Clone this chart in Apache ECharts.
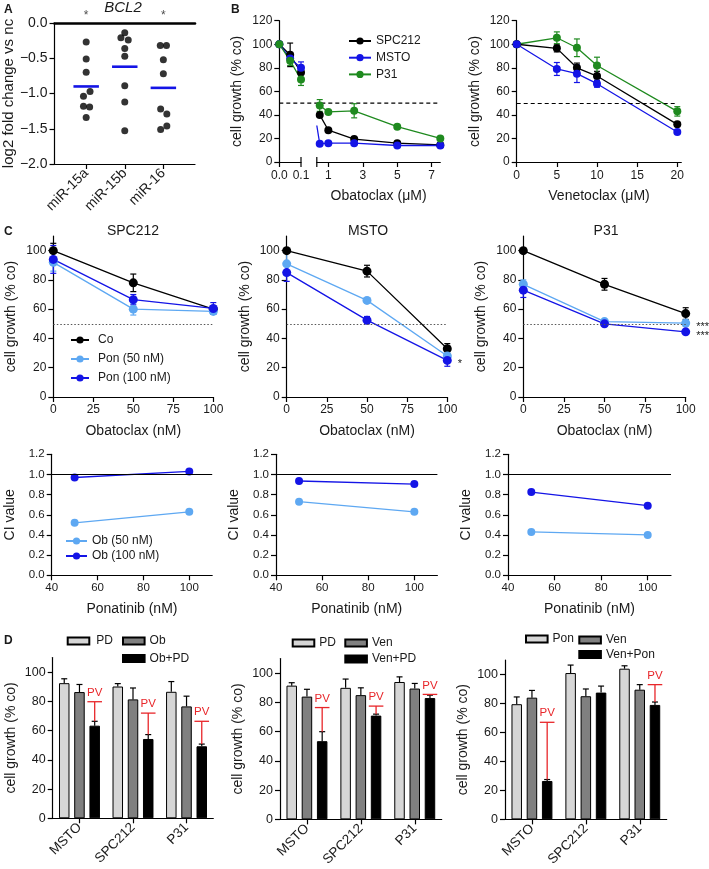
<!DOCTYPE html>
<html><head><meta charset="utf-8">
<script src="https://cdn.jsdelivr.net/npm/echarts@6/dist/echarts.min.js"></script>
<style>html,body{margin:0;padding:0;background:#fff}#c{width:709px;height:869px}</style>
</head><body><div id="c"></div><script>
// ---------------- DATA ----------------
// Panel A: BCL2 log2 fold change
const aCats = ['miR-15a', 'miR-15b', 'miR-16'];
const a15aX = [1, 1, 1, 1.1, 0.93, 0.93, 1.09, 1];
const a15aY = [-0.27, -0.51, -0.70, -0.97, -1.04, -1.18, -1.19, -1.34];
const a15bX = [2, 1.9, 2.09, 2, 2, 2, 2, 2];
const a15bY = [-0.14, -0.21, -0.24, -0.36, -0.47, -0.89, -1.12, -1.53];
const a16X = [2.92, 3.08, 3, 3, 2.93, 3.09, 3.09, 2.93];
const a16Y = [-0.32, -0.32, -0.52, -0.72, -1.22, -1.29, -1.46, -1.51];
const aMeans = [-0.90, -0.62, -0.92];
const aSig = ['*', '', '*'];

// Panel B left: Obatoclax (µM), broken axis
const bLoX = [0, 0.05, 0.1];
const bLoSPC = [100, 91, 76];   const bLoSPCErr = [0, 10, 0];
const bLoMSTO = [100, 88, 80];  const bLoMSTOErr = [0, 0, 5];
const bLoP31 = [100, 86, 70];   const bLoP31Err = [0, 4, 5];
const bHiX = [0.5, 1, 2.5, 5, 7.5];
const bHiSPC = [40, 27, 19.5, 16, 14.5];
const bHiMSTO = [15.5, 16, 16, 14, 14];
const bHiMSTOEdge = [0.33, 31];
const bHiP31 = [48, 42.5, 43.5, 30, 20];  const bHiP31Err = [5, 0, 6, 0, 0];

// Panel B right: Venetoclax (µM)
const vX = [0, 5, 7.5, 10, 20];
const vSPC = [100, 96.5, 80, 73, 32];     const vSPCErr = [0, 3, 4, 4, 0];
const vMSTO = [100, 79, 75, 66.5, 25.5];  const vMSTOErr = [0, 5.5, 7.5, 3, 0];
const vP31 = [100, 105.5, 97, 82, 43];    const vP31Err = [0, 5, 7.5, 7, 4];

// Panel C row 1: Obatoclax (nM) +/- Ponatinib
const cX = [0, 50, 100];
const cSPC_co = [100, 78, 60];   const cSPC_coErr = [5, 6, 2];
const cSPC_p50 = [92, 60, 58.5]; const cSPC_p50Err = [6, 4, 2];
const cSPC_p100 = [94, 66.5, 60.5]; const cSPC_p100Err = [9.5, 3.5, 4];
const cMSTO_co = [100, 86, 33];  const cMSTO_coErr = [0, 4, 3.5];
const cMSTO_p50 = [91, 66, 28];  const cMSTO_p50Err = [8, 0, 3];
const cMSTO_p100 = [85, 52.5, 25]; const cMSTO_p100Err = [6, 2.5, 4];
const cMSTO_p100Sig = ['', '', '*'];
const cP31_co = [100, 77, 57];   const cP31_coErr = [0, 4, 4];
const cP31_p50 = [77, 51.5, 50.5]; const cP31_p50Err = [3, 0, 2];
const cP31_p100 = [73, 50, 44.5]; const cP31_p100Err = [5, 0, 1];
const cP31_p50Sig = ['', '', '***'];
const cP31_p100Sig = ['', '', '***'];

// Panel C row 2: CI values vs Ponatinib (nM)
const ciX = [50, 100];
const ci1_50 = [0.52, 0.63];  const ci1_100 = [0.97, 1.03];
const ci2_50 = [0.73, 0.63];  const ci2_100 = [0.935, 0.905];
const ci3_50 = [0.43, 0.40];  const ci3_100 = [0.825, 0.69];

// Panel D: bars
const dCats = ['MSTO', 'SPC212', 'P31'];
const d1PD = [92.5, 90.2, 86.6];   const d1PDErr = [3, 2, 7];
const d1Ob = [86.4, 81.4, 76.6];   const d1ObErr = [5.2, 7.8, 7];
const d1Comb = [63.4, 54.3, 49.3]; const d1CombErr = [3, 3, 1.5];
const d1PV = [79.8, 72, 66.4];
const d2PD = [91.5, 90, 94];       const d2PDErr = [2, 6, 3.5];
const d2Ven = [84, 85, 89.5];      const d2VenErr = [5, 5, 3.5];
const d2Comb = [53.5, 71, 83];     const d2CombErr = [6.5, 1, 2];
const d2PV = [76.5, 77.5, 85.5];
const d3Pon = [79.5, 101, 104];    const d3PonErr = [5, 5.5, 2];
const d3Ven = [84, 85, 89.5];      const d3VenErr = [5, 5, 3.5];
const d3Comb = [26.5, 87.5, 79];   const d3CombErr = [1, 4.5, 2];
const d3PV = [67, null, 93];

// ticks
const ticksA = [0, -0.5, -1, -1.5, -2];
const ticks120 = [0, 20, 40, 60, 80, 100, 120];
const ticks100 = [0, 20, 40, 60, 80, 100];
const ticksCI = [0, 0.2, 0.4, 0.6, 0.8, 1.0, 1.2];
const ticksPon = [40, 60, 80, 100];
const ticksOb = [0, 25, 50, 75, 100];
const ticksVen = [0, 5, 10, 15, 20];
const ticksObaHi = [1, 3, 5, 7];

// ---------------- STYLE ----------------
const F = "'Liberation Sans', Arial, Helvetica, sans-serif";
const TXT = '#1a1a1a';
const BLACK = '#000000', BLUE = '#1414e6', LBLUE = '#5ea8f2', GREEN = '#1f8a1f', RED = '#e8262a';
const PDC = '#d6d6d6', OBC = '#808080';
const BW = 10.5, BGAP = 0.45, BOFF = BW * (1 + BGAP);

const chart = echarts.init(document.getElementById('c'));

const grids = [
  {left: 54, top: 23, width: 141, height: 141},            // 0 A
  {left: 279.3, top: 20.7, width: 21.7, height: 141.3},    // 1 B1
  {left: 316.8, top: 20.7, width: 123.5, height: 141.3},   // 2 B2
  {left: 516.7, top: 20.7, width: 164.6, height: 141.3},   // 3 B3
  {left: 53.3, top: 236, width: 160, height: 161},         // 4 C1
  {left: 286.7, top: 236, width: 160.6, height: 161},      // 5 C2
  {left: 523.3, top: 236, width: 162.4, height: 161},      // 6 C3
  {left: 51.7, top: 454.3, width: 160.5, height: 121},     // 7 CI1
  {left: 276, top: 454.3, width: 161.4, height: 121},      // 8 CI2
  {left: 508, top: 454.3, width: 163, height: 121},        // 9 CI3
  {left: 52.7, top: 657.6, width: 160.6, height: 160.7},   // 10 D1
  {left: 280, top: 658.6, width: 161.7, height: 161.4},    // 11 D2
  {left: 505, top: 660, width: 161.7, height: 160.7}       // 12 D3
];

function vAxis(o) {
  return {
    type: 'value', gridIndex: o.g, min: o.min, max: o.max, show: o.show !== false,
    position: o.pos,
    name: o.name || '', nameLocation: 'middle', nameGap: o.nameGap || 36,
    nameTextStyle: {fontSize: o.nameSize || 14, color: TXT, fontFamily: F},
    axisLine: {show: true, onZero: false, lineStyle: {color: '#000', width: 1.2}},
    axisTick: {show: o.tickShow !== false, length: 5, customValues: o.tickVals || o.ticks, lineStyle: {color: '#000', width: 1.2}},
    axisLabel: {customValues: o.ticks, formatter: o.fmt, fontSize: o.size || 12, color: TXT, fontFamily: F, margin: o.margin || 7},
    splitLine: {show: false}
  };
}
const f1 = v => v.toFixed(1).replace('-', '\u2212');
const f0 = v => String(Math.round(v));

const xAxes = [
  vAxis({g: 0, min: 0.18, max: 3.82, ticks: [1, 2, 3], fmt: v => aCats[Math.round(v) - 1], size: 14}),
  vAxis({g: 1, min: 0, max: 0.1, ticks: [0, 0.1], tickVals: [0], fmt: f1, name: '', margin: 8}),
  vAxis({g: 2, min: 0.33, max: 7.5, ticks: ticksObaHi, fmt: f0, name: 'Obatoclax (\u03bcM)', nameGap: 27, margin: 8}),
  vAxis({g: 3, min: 0, max: 20.5, ticks: ticksVen, fmt: f0, name: 'Venetoclax (\u03bcM)', nameGap: 27, margin: 8}),
  vAxis({g: 4, min: 0, max: 100, ticks: ticksOb, fmt: f0, name: 'Obatoclax (nM)', nameGap: 27}),
  vAxis({g: 5, min: 0, max: 100, ticks: ticksOb, fmt: f0, name: 'Obatoclax (nM)', nameGap: 27}),
  vAxis({g: 6, min: 0, max: 100, ticks: ticksOb, fmt: f0, name: 'Obatoclax (nM)', nameGap: 27}),
  vAxis({g: 7, min: 40, max: 110, ticks: ticksPon, fmt: f0, name: 'Ponatinib (nM)', nameGap: 27, size: 11.5}),
  vAxis({g: 8, min: 40, max: 110, ticks: ticksPon, fmt: f0, name: 'Ponatinib (nM)', nameGap: 27, size: 11.5}),
  vAxis({g: 9, min: 40, max: 110, ticks: ticksPon, fmt: f0, name: 'Ponatinib (nM)', nameGap: 27, size: 11.5})
];
xAxes[0].axisLabel.rotate = 45;
for (let g = 10; g <= 12; g++) {
  xAxes.push({
    type: 'category', gridIndex: g, data: dCats,
    axisLine: {show: true, onZero: false, lineStyle: {color: '#000', width: 1.2}},
    axisTick: {show: true, alignWithLabel: true, length: 5, lineStyle: {color: '#000', width: 1.2}},
    axisLabel: {rotate: 45, fontSize: 13.5, color: TXT, fontFamily: F, margin: 7},
    splitLine: {show: false}
  });
}
// thick zero line on top of panel A
xAxes.push({type: 'value', gridIndex: 0, position: 'top', min: 0.18, max: 3.82,
  axisLine: {show: true, onZero: false, lineStyle: {color: '#000', width: 2.6}},
  axisTick: {show: false}, axisLabel: {show: false}, splitLine: {show: false}});

const yAxes = [
  vAxis({g: 0, min: -2, max: 0, ticks: ticksA, fmt: f1, size: 14, name: 'log2 fold change vs nc', nameSize: 15, nameGap: 37}),
  vAxis({g: 1, min: 0, max: 120, ticks: ticks120, fmt: f0, name: 'cell growth (% co)', nameGap: 35}),
  vAxis({g: 2, min: 0, max: 120, ticks: ticks120, fmt: f0, show: false}),
  vAxis({g: 3, min: 0, max: 120, ticks: ticks120, fmt: f0, name: 'cell growth (% co)', nameGap: 35}),
  vAxis({g: 4, min: 0, max: 110, ticks: ticks100, fmt: f0, name: 'cell growth (% co)', nameGap: 35}),
  vAxis({g: 5, min: 0, max: 110, ticks: ticks100, fmt: f0, name: 'cell growth (% co)', nameGap: 35}),
  vAxis({g: 6, min: 0, max: 110, ticks: ticks100, fmt: f0, name: 'cell growth (% co)', nameGap: 35}),
  vAxis({g: 7, min: 0, max: 1.2, ticks: ticksCI, fmt: f1, name: 'CI value', nameGap: 35, size: 11.5}),
  vAxis({g: 8, min: 0, max: 1.2, ticks: ticksCI, fmt: f1, name: 'CI value', nameGap: 35, size: 11.5}),
  vAxis({g: 9, min: 0, max: 1.2, ticks: ticksCI, fmt: f1, name: 'CI value', nameGap: 35, size: 11.5}),
  vAxis({g: 10, min: 0, max: 110, ticks: ticks100, fmt: f0, name: 'cell growth (% co)', nameGap: 35, size: 12.5}),
  vAxis({g: 11, min: 0, max: 110, ticks: ticks100, fmt: f0, name: 'cell growth (% co)', nameGap: 35, size: 12.5}),
  vAxis({g: 12, min: 0, max: 110, ticks: ticks100, fmt: f0, name: 'cell growth (% co)', nameGap: 35, size: 12.5})
];

// ---------------- SERIES ----------------
const series = [];
function pairs(xs, ys) { return xs.map((x, i) => [x, ys[i]]); }
function lineS(name, g, xs, ys, color, size, extra) {
  const s = {type: 'line', name: name, xAxisIndex: g, yAxisIndex: g, data: pairs(xs, ys),
    symbol: 'circle', symbolSize: size || 8, showSymbol: true,
    lineStyle: {color: color, width: 1.3}, itemStyle: {color: color}, z: 4};
  return Object.assign(s, extra || {});
}
function errRender(color, cap, offset, topOnly) {
  return function (params, api) {
    const x = api.value(0), lo = api.value(1), hi = api.value(2);
    const a = api.coord([x, lo]), b = api.coord([x, hi]);
    const ox = offset || 0;
    const st = {stroke: color, lineWidth: 1.2};
    const ch = [
      {type: 'line', shape: {x1: a[0] + ox, y1: a[1], x2: b[0] + ox, y2: b[1]}, style: st},
      {type: 'line', shape: {x1: b[0] + ox - cap, y1: b[1], x2: b[0] + ox + cap, y2: b[1]}, style: st}
    ];
    if (!topOnly) ch.push({type: 'line', shape: {x1: a[0] + ox - cap, y1: a[1], x2: a[0] + ox + cap, y2: a[1]}, style: st});
    return {type: 'group', children: ch};
  };
}
function errS(g, xs, ys, es, color, cap) {
  const data = [];
  xs.forEach((x, i) => { if (es[i] > 0) data.push([x, ys[i] - es[i], ys[i] + es[i]]); });
  return {type: 'custom', xAxisIndex: g, yAxisIndex: g, data: data, silent: true, z: 3,
    renderItem: errRender(color, cap || 3), encode: {x: 0, y: [1, 2]}};
}
function sigLabel(arr) {
  return {show: true, position: 'right', distance: 6, offset: [0, 4], fontSize: 11, color: TXT, fontFamily: F,
    formatter: p => arr[p.dataIndex]};
}

// Panel A
series.push({type: 'scatter', xAxisIndex: 0, yAxisIndex: 0, data: pairs(a15aX, a15aY), symbolSize: 7, itemStyle: {color: '#000'}, z: 4});
series.push({type: 'scatter', xAxisIndex: 0, yAxisIndex: 0, data: pairs(a15bX, a15bY), symbolSize: 7, itemStyle: {color: '#000'}, z: 4});
series.push({type: 'scatter', xAxisIndex: 0, yAxisIndex: 0, data: pairs(a16X, a16Y), symbolSize: 7, itemStyle: {color: '#000'}, z: 4});
series.push({type: 'custom', xAxisIndex: 0, yAxisIndex: 0, silent: true, z: 3,
  data: aMeans.map((m, i) => [i + 1, m]),
  renderItem: function (params, api) {
    const x = api.value(0), y = api.value(1);
    const a = api.coord([x - 0.33, y]), b = api.coord([x + 0.33, y]);
    return {type: 'line', shape: {x1: a[0], y1: a[1], x2: b[0], y2: b[1]}, style: {stroke: BLUE, lineWidth: 2.6}};
  }});
series.push({type: 'scatter', xAxisIndex: 0, yAxisIndex: 0, symbolSize: 0, silent: true,
  data: aSig.map((s, i) => [i + 1, 0]),
  label: {show: true, position: 'top', distance: 1, fontSize: 12, color: TXT, fontFamily: F, formatter: p => aSig[p.dataIndex]}});

// Panel B left
series.push(errS(1, bLoX, bLoSPC, bLoSPCErr, BLACK));
series.push(errS(1, bLoX, bLoMSTO, bLoMSTOErr, BLUE));
series.push(errS(1, bLoX, bLoP31, bLoP31Err, GREEN));
series.push(lineS('SPC212', 1, bLoX, bLoSPC, BLACK, 8));
series.push(lineS('MSTO', 1, bLoX, bLoMSTO, BLUE, 8));
series.push(lineS('P31', 1, bLoX, bLoP31, GREEN, 8));
series.push(errS(2, bHiX, bHiP31, bHiP31Err, GREEN));
series.push(lineS('SPC212', 2, bHiX, bHiSPC, BLACK, 8));
const mstoHi = lineS('MSTO', 2, bHiX, bHiMSTO, BLUE, 8);
mstoHi.data = [{value: bHiMSTOEdge, symbolSize: 0}].concat(mstoHi.data);
series.push(mstoHi);
series.push(lineS('P31', 2, bHiX, bHiP31, GREEN, 8));

// Panel B right
series.push(errS(3, vX, vSPC, vSPCErr, BLACK));
series.push(errS(3, vX, vMSTO, vMSTOErr, BLUE));
series.push(errS(3, vX, vP31, vP31Err, GREEN));
series.push(lineS('P31', 3, vX, vP31, GREEN, 8));
series.push(lineS('SPC212', 3, vX, vSPC, BLACK, 8, {
  markLine: {silent: true, symbol: 'none', label: {show: false},
    lineStyle: {color: '#000', type: [4, 3], width: 1.2},
    data: [[{coord: [0, 50]}, {coord: [20, 50]}]]}}));
series.push(lineS('MSTO', 3, vX, vMSTO, BLUE, 8));

// Panel C row 1
function cPanel(g, co, coE, p50, p50E, p100, p100E, sig50, sig100) {
  series.push(errS(g, cX, co, coE, BLACK));
  series.push(errS(g, cX, p50, p50E, LBLUE));
  series.push(errS(g, cX, p100, p100E, BLUE));
  series.push(lineS('Co', g, cX, co, BLACK, 9, {
    markLine: {silent: true, symbol: 'none', label: {show: false},
      lineStyle: {color: '#555', type: [1.5, 2], width: 1.2},
      data: [{yAxis: 50}]}}));
  series.push(lineS('Pon (50 nM)', g, cX, p50, LBLUE, 9, sig50 ? {label: sigLabel(sig50)} : {}));
  series.push(lineS('Pon (100 nM)', g, cX, p100, BLUE, 9, sig100 ? {label: sigLabel(sig100)} : {}));
}
cPanel(4, cSPC_co, cSPC_coErr, cSPC_p50, cSPC_p50Err, cSPC_p100, cSPC_p100Err);
cPanel(5, cMSTO_co, cMSTO_coErr, cMSTO_p50, cMSTO_p50Err, cMSTO_p100, cMSTO_p100Err, null, cMSTO_p100Sig);
cPanel(6, cP31_co, cP31_coErr, cP31_p50, cP31_p50Err, cP31_p100, cP31_p100Err, cP31_p50Sig, cP31_p100Sig);

// Panel C row 2 (CI)
function ciPanel(g, v50, v100) {
  series.push(lineS('Ob (50 nM)', g, ciX, v50, LBLUE, 8, {
    markLine: {silent: true, symbol: 'none', label: {show: false},
      lineStyle: {color: '#000', type: 'solid', width: 1.2}, data: [{yAxis: 1.0}]}}));
  series.push(lineS('Ob (100 nM)', g, ciX, v100, BLUE, 8));
}
ciPanel(7, ci1_50, ci1_100);
ciPanel(8, ci2_50, ci2_100);
ciPanel(9, ci3_50, ci3_100);

// Panel D
function barS(name, g, vals, color) {
  return {type: 'bar', name: name, xAxisIndex: g, yAxisIndex: g, data: vals, barWidth: BW, barGap: (BGAP * 100) + '%',
    itemStyle: {color: color, borderColor: '#000', borderWidth: 1}, z: 2};
}
function barErrS(g, vals, errs, pos) {
  return {type: 'custom', xAxisIndex: g, yAxisIndex: g, silent: true, z: 3,
    data: vals.map((v, i) => [i, v, v + errs[i]]),
    renderItem: errRender('#000', 3, (pos - 1) * BOFF, true)};
}
function pvS(g, vals, errs, pv) {
  const data = [];
  pv.forEach((p, i) => { if (p !== null) data.push([i, vals[i] + errs[i], p]); });
  return {type: 'custom', xAxisIndex: g, yAxisIndex: g, silent: true, z: 4, data: data,
    renderItem: function (params, api) {
      const x = api.value(0);
      const a = api.coord([x, api.value(1)]), b = api.coord([x, api.value(2)]);
      const ox = BOFF;
      const st = {stroke: RED, lineWidth: 1.3};
      return {type: 'group', children: [
        {type: 'line', shape: {x1: a[0] + ox, y1: a[1], x2: b[0] + ox, y2: b[1]}, style: st},
        {type: 'line', shape: {x1: b[0] + ox - 7.3, y1: b[1], x2: b[0] + ox + 7.3, y2: b[1]}, style: st},
        {type: 'text', style: {text: 'PV', x: b[0] + ox, y: b[1] - 3, align: 'center', verticalAlign: 'bottom',
          fill: RED, fontSize: 11.5, fontFamily: F}}
      ]};
    }};
}
function dPanel(g, n1, v1, e1, n2, v2, e2, n3, v3, e3, pv) {
  series.push(barS(n1, g, v1, PDC));
  series.push(barS(n2, g, v2, OBC));
  series.push(barS(n3, g, v3, '#000'));
  series.push(barErrS(g, v1, e1, 0));
  series.push(barErrS(g, v2, e2, 1));
  series.push(barErrS(g, v3, e3, 2));
  series.push(pvS(g, v3, e3, pv));
}
dPanel(10, 'PD', d1PD, d1PDErr, 'Ob', d1Ob, d1ObErr, 'Ob+PD', d1Comb, d1CombErr, d1PV);
dPanel(11, 'PD', d2PD, d2PDErr, 'Ven', d2Ven, d2VenErr, 'Ven+PD', d2Comb, d2CombErr, d2PV);
dPanel(12, 'Pon', d3Pon, d3PonErr, 'Ven', d3Ven, d3VenErr, 'Ven+Pon', d3Comb, d3CombErr, d3PV);

// ---------------- LEGENDS ----------------
const lt = {fontSize: 12, color: TXT, fontFamily: F, lineHeight: 14};
function leg(names, left, top, w, h, gap, extra) {
  return Object.assign({data: names, orient: 'vertical', left: left, top: top, padding: 0,
    itemWidth: w, itemHeight: h, itemGap: gap, selectedMode: false, textStyle: Object.assign({}, lt)}, extra || {});
}
const legends = [
  leg(['SPC212', 'MSTO', 'P31'], 348, 34, 22, 9, 2.7),
  leg(['Co', 'Pon (50 nM)', 'Pon (100 nM)'], 70, 333, 18, 9, 5, {textStyle: Object.assign({}, lt, {padding: [0, 0, 0, 4]})}),
  leg(['Ob (50 nM)', 'Ob (100 nM)'], 65, 534, 21, 9, 1),
  leg(['PD'], 66.7, 634, 21.6, 7, 2, {icon: 'rect', textStyle: Object.assign({}, lt, {padding: [0, 0, 0, 2]})}),
  leg(['Ob', 'Ob+PD'], 122, 634, 21.6, 7, 3.5, {icon: 'rect'}),
  leg(['PD'], 291.7, 636, 21.6, 7, 2, {icon: 'rect'}),
  leg(['Ven', 'Ven+PD'], 344.3, 636, 21.6, 7, 2, {icon: 'rect'}),
  leg(['Pon'], 525, 632, 21.6, 7, 2, {icon: 'rect'}),
  leg(['Ven', 'Ven+Pon'], 578.3, 633, 21.6, 7, 0.5, {icon: 'rect'})
];

// ---------------- TEXT ----------------
function txt(s, x, y, o) {
  return {type: 'text', x: x, y: y, silent: true,
    style: Object.assign({text: s, fill: TXT, fontFamily: F, fontSize: 14, align: 'center', verticalAlign: 'middle'}, o || {})};
}
const graphics = [
  txt('A', 4, 10, {fontWeight: 'bold', fontSize: 12, align: 'left'}),
  txt('B', 231, 10, {fontWeight: 'bold', fontSize: 12, align: 'left'}),
  txt('C', 4, 232, {fontWeight: 'bold', fontSize: 12, align: 'left'}),
  txt('D', 4, 641, {fontWeight: 'bold', fontSize: 12, align: 'left'}),
  txt('BCL2', 123, 8, {fontStyle: 'italic', fontSize: 15}),
  txt('SPC212', 133, 231),
  txt('MSTO', 368, 231),
  txt('P31', 606, 231)
];

chart.setOption({
  animation: false,
  backgroundColor: '#ffffff',
  textStyle: {fontFamily: F},
  grid: grids, xAxis: xAxes, yAxis: yAxes, series: series, legend: legends, graphic: graphics
});

// Broken-axis decorations for panel B left (positions via the chart's own scales)
const y0 = chart.convertToPixel({yAxisIndex: 1}, 0);
const y50 = chart.convertToPixel({yAxisIndex: 1}, 50);
const xa = chart.convertToPixel({xAxisIndex: 1}, 0);
const xb = chart.convertToPixel({xAxisIndex: 2}, 7.5);
const xBreak1 = chart.convertToPixel({xAxisIndex: 1}, 0.1);
const xBreak2 = chart.convertToPixel({xAxisIndex: 2}, 0.33);
chart.setOption({graphic: graphics.concat([
  {type: 'line', silent: true, shape: {x1: xa, y1: y50, x2: xb, y2: y50}, style: {stroke: '#000', lineWidth: 1.2, lineDash: [4, 3]}},
  {type: 'line', silent: true, shape: {x1: xBreak1, y1: y0 - 5, x2: xBreak1, y2: y0 + 5}, style: {stroke: '#000', lineWidth: 1.2}},
  {type: 'line', silent: true, shape: {x1: xBreak2, y1: y0 - 5, x2: xBreak2, y2: y0 + 5}, style: {stroke: '#000', lineWidth: 1.2}}
])});
</script></body></html>
